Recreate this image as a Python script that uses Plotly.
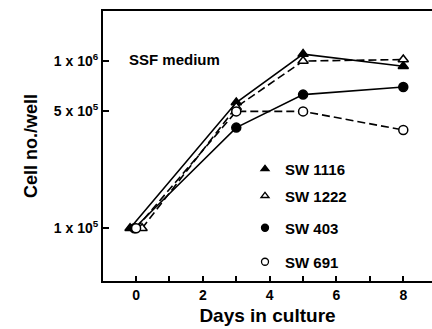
import plotly.graph_objects as go

# Data (days in culture, cells per well)
days_1116 = [-0.18, 3, 5, 8]
sw1116 = [1.0e5, 5.65e5, 1.1e6, 9.3e5]
days_1222 = [0.18, 3, 5, 8]
sw1222 = [1.0e5, 5.3e5, 1.0e6, 1.02e6]
days_403 = [-0.05, 3, 5, 8]
sw403 = [1.0e5, 4.0e5, 6.3e5, 7.0e5]
days_691 = [0, 3, 5, 8]
sw691 = [1.0e5, 5.0e5, 5.0e5, 3.87e5]

series = [
    ("SW 1116", days_1116, sw1116, "triangle-up", "black", "solid"),
    ("SW 1222", days_1222, sw1222, "triangle-up", "white", "8px,4px"),
    ("SW 403", days_403, sw403, "circle", "black", "solid"),
    ("SW 691", days_691, sw691, "circle", "white", "8px,4px"),
]

ytick_vals = [1e5, 5e5, 1e6]
ytick_text = ["<b>1 x 10<sup>5</sup></b>", "<b>5 x 10<sup>5</sup></b>", "<b>1 x 10<sup>6</sup></b>"]
xtick_vals = [0, 2, 4, 6, 8]
xtick_text = ["<b>0</b>", "<b>2</b>", "<b>4</b>", "<b>6</b>", "<b>8</b>"]

FONT = "Liberation Sans, Arial, sans-serif"

fig = go.Figure()

draw_order = [2, 0, 1, 3]
for i in draw_order:
    name, x, y, sym, fill, dash = series[i]
    fig.add_trace(go.Scatter(
        x=x, y=y, mode="lines+markers", showlegend=False,
        line=dict(color="black", width=1.6, dash=dash),
        marker=dict(symbol=sym, size=9, color=fill,
                    line=dict(color="black", width=1.5)),
    ))

legend_names = ["legend", "legend2", "legend3", "legend4"]
legend_y = [169, 196, 228, 262]
for (name, x, y, sym, fill, dash), lg in zip(series, legend_names):
    fig.add_trace(go.Scatter(
        x=[None], y=[None], mode="markers", name="<b>" + name + "</b>", legend=lg,
        marker=dict(symbol=sym, size=7, color=fill,
                    line=dict(color="black", width=1.3)),
    ))

plot_top, plot_bottom, plot_left, plot_right = 11, 281, 103, 432
H = plot_bottom - plot_top
W = plot_right - plot_left

layout_legends = {}
for lg, py in zip(legend_names, legend_y):
    layout_legends[lg] = dict(
        x=(245 - plot_left) / W, y=(plot_bottom - py) / H,
        xanchor="left", yanchor="middle",
        bgcolor="rgba(0,0,0,0)", borderwidth=0,
        font=dict(family=FONT, size=15, color="black"),
        itemwidth=30,
    )

fig.update_layout(
    width=432, height=329,
    margin=dict(l=plot_left, r=0, t=plot_top, b=329 - plot_bottom),
    paper_bgcolor="white", plot_bgcolor="white",
    font=dict(family=FONT, color="black"),
    **layout_legends,
)

fig.update_xaxes(
    range=[-0.99, 8.86], showgrid=False, zeroline=False,
    showline=True, linecolor="black", linewidth=2, mirror=True,
    tickvals=xtick_vals, ticktext=xtick_text,
    ticks="inside", ticklen=5, tickwidth=1.5, tickcolor="black",
    minor=dict(dtick=1, tick0=0, ticks="inside", ticklen=5, tickwidth=1.5, tickcolor="black"),
    tickfont=dict(family=FONT, size=14),
    title=dict(text="<b>Days in culture</b>", font=dict(family=FONT, size=19), standoff=7),
)
fig.update_yaxes(
    type="log", range=[4.685, 6.299], showgrid=False, zeroline=False,
    showline=True, linecolor="black", linewidth=2,
    tickvals=ytick_vals, ticktext=ytick_text,
    ticks="inside", ticklen=6, tickwidth=1.5, tickcolor="black",
    tickfont=dict(family=FONT, size=14),
    title=dict(text="<b>Cell no./well</b>", font=dict(family=FONT, size=18), standoff=12),
)

fig.add_annotation(
    text="<b>SSF medium</b>", xref="paper", yref="paper",
    x=(127 - plot_left) / W, y=(plot_bottom - 60) / H,
    xanchor="left", yanchor="middle", showarrow=False,
    font=dict(family=FONT, size=15, color="black"),
)

fig.write_html("out.html")
